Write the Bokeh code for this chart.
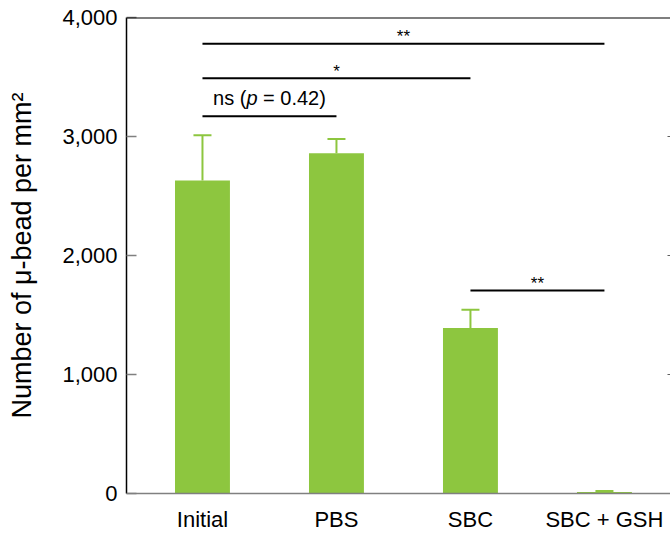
from bokeh.plotting import figure
from bokeh.models import (Range1d, FixedTicker, NumeralTickFormatter, LinearAxis,
                          Whisker, ColumnDataSource, TeeHead, Span)
from bokeh.core.properties import value
from bokeh.embed import file_html
from bokeh.resources import INLINE

# ---- data ----
categories = ["Initial", "PBS", "SBC", "SBC + GSH"]
means = [2630, 2860, 1390, 12]
errors = [380, 120, 155, 10]
y_ticks = [0, 1000, 2000, 3000, 4000]
right_ticks = [1000, 2000, 3000]
bracket_from = [0, 0, 0, 2]
bracket_to = [3, 2, 1, 3]
bracket_y = [3780, 3490, 3170, 1705]
bracket_label = ["**", "*", "ns", "**"]
ns_p_value = "0.42"

GREEN = "#8DC63F"
FONT = "Liberation Sans"

W, H = 670, 535
LEFT, TOP, BOTTOM = 126, 17, 42
frame_h = H - TOP - BOTTOM
upp = 4000 / frame_h  # data units per pixel

xs = list(range(len(categories)))

p = figure(width=W, height=H, output_backend="svg", toolbar_location=None,
           x_range=Range1d(-0.567, 3.493), y_range=Range1d(0, 4000),
           min_border_left=LEFT, min_border_top=TOP,
           min_border_bottom=BOTTOM, min_border_right=0)
p.grid.visible = False
p.outline_line_color = None
p.background_fill_color = "white"
p.border_fill_color = "white"

src = ColumnDataSource(dict(x=xs, top=means,
                            upper=[m + e for m, e in zip(means, errors)]))
p.vbar(x="x", top="top", bottom=0, width=0.41, source=src,
       fill_color=GREEN, line_color=None)
wh = Whisker(base="x", lower="top", upper="upper", source=src, dimension="height",
             line_color=GREEN, line_width=2, lower_head=None,
             upper_head=TeeHead(size=18, line_color=GREEN, line_width=2))
p.add_layout(wh)

# top border
p.add_layout(Span(location=4000, dimension="width", line_color="black", line_width=2))

# left axis
ya = p.yaxis[0]
ya.ticker = FixedTicker(ticks=y_ticks)
ya.formatter = NumeralTickFormatter(format="0,0")
ya.major_tick_in = 10
ya.major_tick_out = 0
ya.minor_tick_line_color = None
ya.major_tick_line_color = "#808080"
ya.major_tick_line_width = 1.5
ya.axis_line_color = "black"
ya.axis_line_width = 1.5
ya.major_label_text_font = FONT
ya.major_label_text_font_size = "22px"
ya.major_label_text_color = "black"
ya.major_label_standoff = 9
ya.axis_label = "Number of μ-bead per mm²"
ya.axis_label_text_font = FONT
ya.axis_label_text_font_size = "27px"
ya.axis_label_text_font_style = "normal"
ya.axis_label_text_color = "black"
ya.axis_label_standoff = 22

# bottom axis
xa = p.xaxis[0]
xa.ticker = FixedTicker(ticks=xs)
xa.major_label_overrides = {i: c for i, c in enumerate(categories)}
xa.major_tick_line_color = None
xa.minor_tick_line_color = None
xa.axis_line_color = "#808080"
xa.axis_line_width = 1.5
xa.major_label_text_font = FONT
xa.major_label_text_font_size = "22px"
xa.major_label_text_color = "black"
xa.major_label_standoff = 7

# right axis (ticks only)
ra = LinearAxis(ticker=FixedTicker(ticks=right_ticks),
                major_label_overrides={t: "" for t in right_ticks},
                major_label_standoff=0, major_tick_in=3, major_tick_out=0,
                major_tick_line_color="#606060", major_tick_line_width=1,
                minor_tick_line_color=None, axis_line_color=None)
p.add_layout(ra, "right")

# significance brackets
p.segment(x0=bracket_from, x1=bracket_to, y0=bracket_y, y1=bracket_y,
          line_color="black", line_width=2)

mid = [(a + b) / 2 for a, b in zip(bracket_from, bracket_to)]
star_x = [m for m, l in zip(mid, bracket_label) if l != "ns"]
star_y = [y + 7 * upp for y, l in zip(bracket_y, bracket_label) if l != "ns"]
star_t = [l for l in bracket_label if l != "ns"]
p.text(x=star_x, y=star_y, text=star_t, text_align="center",
       text_baseline="middle", text_font=value(FONT),
       text_font_size="17px", text_color="black")

ns_i = bracket_label.index("ns")
ns_x = mid[ns_i]
ns_y = bracket_y[ns_i] + 18 * upp
fs = 20
w1 = fs * 1.667
w2 = fs * 0.556
w3 = fs * 3.419
start = -(w1 + w2 + w3) / 2
common = dict(text_baseline="middle", text_font=value(FONT),
              text_font_size=f"{fs}px", text_color="black", text_align="left")
p.text(x=[ns_x], y=[ns_y], text=["ns ("], x_offset=start, **common)
p.text(x=[ns_x], y=[ns_y], text=["p"], x_offset=start + w1,
       text_font_style="italic", **common)
p.text(x=[ns_x], y=[ns_y], text=["\u00a0= " + ns_p_value + ")"],
       x_offset=start + w1 + w2, **common)

open("out.html", "w").write(file_html(p, INLINE))
